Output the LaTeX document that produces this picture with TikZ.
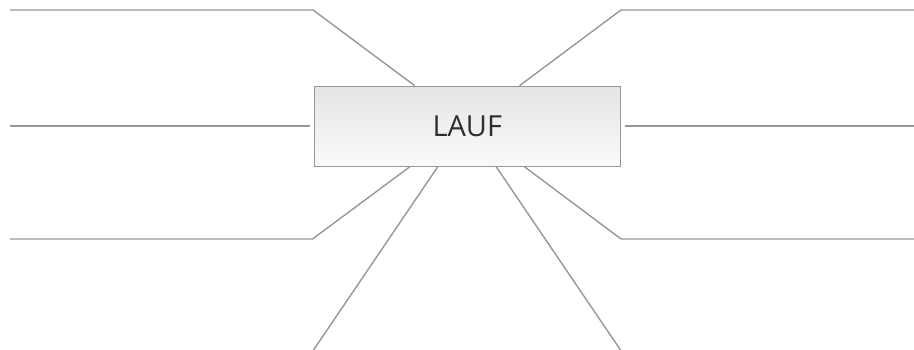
\documentclass[tikz,border=0pt]{standalone}
\usepackage{fontspec}
\setmainfont{Open Sans}
\usetikzlibrary{calc}
\definecolor{branchgray}{HTML}{979797}
\definecolor{boxtop}{HTML}{E3E5E5}
\definecolor{boxbottom}{HTML}{FAFAFA}
\definecolor{textgray}{HTML}{2E2E2E}
\begin{document}
\begin{tikzpicture}[
                        x=1pt, y=-1pt,
                        branch/.style={draw=branchgray, line width=1.4pt}
                    ]
                    \useasboundingbox (0,0) rectangle (914,350);
                    % Blocks
                    \node [rectangle, draw=branchgray, line width=1pt, top color=boxtop, bottom color=boxbottom, minimum height=80pt, minimum width=306pt, inner sep=0pt, font=\fontsize{29}{34}\selectfont, text=textgray] (lauf) at (467.3,126.2) {LAUF};
                    \coordinate (tlend) at (10,10);
                    \coordinate (tlknee) at (313,10);
                    \coordinate (trend) at (914,10);
                    \coordinate (trknee) at (621,10);
                    \coordinate (mlend) at (10,126);
                    \coordinate (mlknee) at (310,126);
                    \coordinate (mrend) at (914,126);
                    \coordinate (mrknee) at (624.5,126);
                    \coordinate (blend) at (10,239);
                    \coordinate (blknee) at (312.5,239);
                    \coordinate (brend) at (914,239);
                    \coordinate (brknee) at (621,239);
                    \coordinate (bdl) at (313.5,350);
                    \coordinate (bdr) at (620.5,350);

                    % Connections
                    \draw [branch] (tlend) -- (tlknee) -- ($(lauf.north west)!0.329!(lauf.north east)$);
                    \draw [branch] (trend) -- (trknee) -- ($(lauf.north west)!0.670!(lauf.north east)$);
                    \draw [branch] (mlend) -- (mlknee);
                    \draw [branch] (mrknee) -- (mrend);
                    \draw [branch] (blend) -- (blknee) -- ($(lauf.south west)!0.313!(lauf.south east)$);
                    \draw [branch] (brend) -- (brknee) -- ($(lauf.south west)!0.686!(lauf.south east)$);
                    \draw [branch] (bdl) -- ($(lauf.south west)!0.404!(lauf.south east)$);
                    \draw [branch] (bdr) -- ($(lauf.south west)!0.594!(lauf.south east)$);
                \end{tikzpicture}
\end{document}
